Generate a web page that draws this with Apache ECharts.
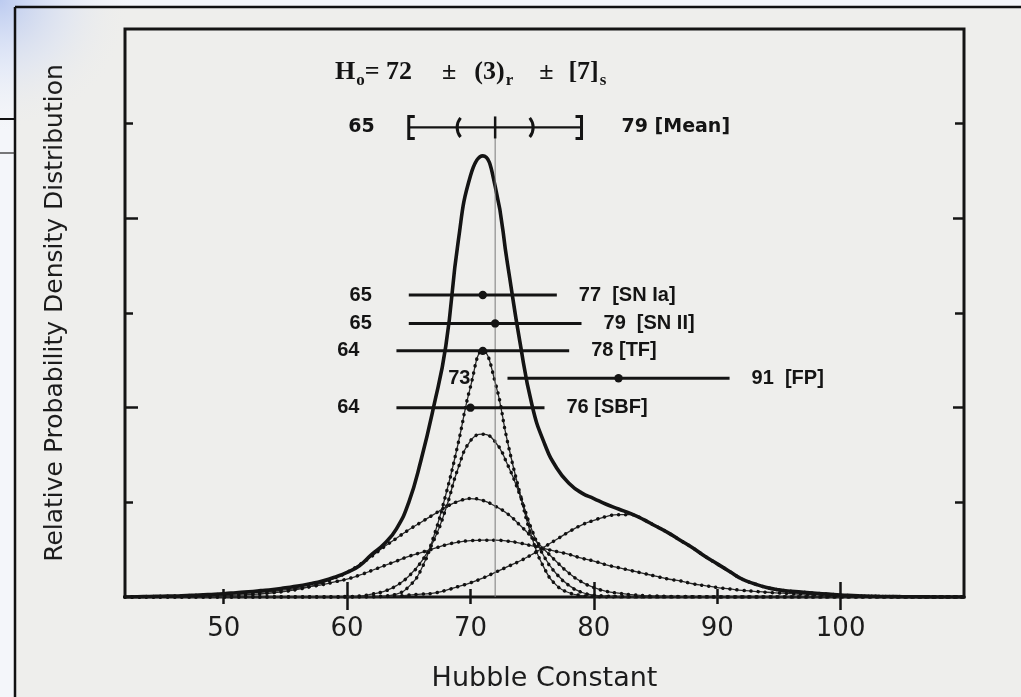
<!DOCTYPE html>
<html>
<head>
<meta charset="utf-8">
<title>Hubble Constant</title>
<script src="https://cdn.jsdelivr.net/npm/echarts@6/dist/echarts.min.js"></script>
<style>
  html, body { margin: 0; padding: 0; background: #eeeeec; }
  #chart { width: 1021px; height: 697px; }
</style>
</head>
<body>
<div id="chart"></div>
<script>
// ---- data ----------------------------------------------------------------
// Hubble constant values (km/s/Mpc) at which the densities are tabulated, 42..110
const hubbleGrid = [42,43,44,45,46,47,48,49,50,51,52,53,54,55,56,57,58,59,60,
  61,62,63,64,65,66,67,68,69,70,71,72,73,74,75,76,77,78,79,80,
  81,82,83,84,85,86,87,88,89,90,91,92,93,94,95,96,97,98,99,100,
  101,102,103,104,105,106,107,108,109,110];

// combined relative probability density
const combinedDensity = [0,0.003,0.005,0.008,0.01,0.015,0.02,0.027,0.035,0.045,0.055,0.067,0.08,0.097,0.115,0.14,0.17,0.21,0.26,
  0.33,0.45,0.56,0.72,1.00,1.45,2.00,2.65,3.75,4.45,4.66,4.34,3.52,2.70,2.02,1.62,1.36,1.20,1.10,1.04,
  0.98,0.93,0.88,0.82,0.75,0.68,0.60,0.52,0.43,0.35,0.27,0.19,0.14,0.10,0.075,0.06,0.05,0.04,0.03,0.02,
  0.015,0.01,0.007,0.005,0.003,0.002,0.001,0,0,0];

// individual method densities
const densityTF = [0,0,0,0,0,0,0,0,0,0,0,0,0,0,0,0,0,0,0,
  0.002,0.005,0.01,0.03,0.11,0.29,0.63,1.08,1.62,2.22,2.60,2.27,1.64,1.10,0.62,0.30,0.12,0.045,0.015,0.005,
  0,0,0,0,0,0,0,0,0,0,0,0,0,0,0,0,0,0,0,0,
  0,0,0,0,0,0,0,0,0,0];

const densitySNIa = [0,0,0,0,0,0,0,0,0,0,0,0,0,0,0,0,0,0,0.005,
  0.01,0.03,0.06,0.12,0.22,0.37,0.59,0.93,1.36,1.65,1.72,1.64,1.40,1.08,0.70,0.42,0.24,0.12,0.05,0.02,
  0.01,0.005,0,0,0,0,0,0,0,0,0,0,0,0,0,0,0,0,0,0,
  0,0,0,0,0,0,0,0,0,0];

const densitySBF = [0,0.002,0.003,0.004,0.006,0.008,0.01,0.012,0.015,0.02,0.025,0.034,0.045,0.06,0.08,0.11,0.15,0.20,0.26,
  0.34,0.43,0.53,0.62,0.71,0.79,0.87,0.95,1.01,1.04,1.02,0.96,0.88,0.76,0.63,0.50,0.37,0.25,0.16,0.10,
  0.06,0.04,0.025,0.015,0.01,0.007,0.005,0.003,0.002,0.001,0,0,0,0,0,0,0,0,0,0,
  0,0,0,0,0,0,0,0,0,0];

const densitySNII = [0,0.003,0.005,0.007,0.01,0.015,0.02,0.025,0.03,0.035,0.04,0.05,0.06,0.075,0.09,0.11,0.13,0.16,0.19,
  0.23,0.28,0.33,0.38,0.43,0.47,0.51,0.55,0.58,0.595,0.60,0.60,0.59,0.57,0.54,0.51,0.48,0.45,0.41,0.38,
  0.34,0.31,0.28,0.25,0.22,0.19,0.17,0.14,0.12,0.10,0.085,0.07,0.06,0.05,0.042,0.035,0.03,0.025,0.02,0.015,
  0.012,0.009,0.007,0.005,0.004,0.003,0.002,0.001,0,0];

const densityFP = [0,0,0,0,0,0,0,0,0,0,0,0,0,0,0,0,0,0,0,
  0,0,0.005,0.01,0.02,0.03,0.04,0.07,0.11,0.15,0.20,0.26,0.32,0.38,0.45,0.53,0.61,0.69,0.76,0.81,
  0.85,0.87,0.87,0.82,0.75,0.68,0.60,0.52,0.43,0.35,0.27,0.19,0.14,0.10,0.075,0.06,0.05,0.04,0.03,0.02,
  0.015,0.01,0.007,0.005,0.003,0.002,0.001,0,0,0];

// per-method ranges and central values
const methodNames   = ['SN Ia', 'SN II', 'TF', 'FP', 'SBF'];
const methodLow     = [65, 65, 64, 73, 64];
const methodHigh    = [77, 79, 78, 91, 76];
const methodCentral = [71, 72, 71, 82, 70];

// adopted value with random and systematic errors
const h0Value = 72;
const h0Random = 3;
const h0Systematic = 7;

// axis tick values
const xLabelValues = [50, 60, 70, 80, 90, 100];
const xMajorTicks = [60, 80, 100];
const xMinorTicks = [50, 70, 90];
const yMajorTicks = [2, 4];
const yMinorTicks = [1, 3, 5];

// ---- layout / style ------------------------------------------------------
const INK = '#141414';
const rowLevels = [3.19, 2.89, 2.6, 2.31, 2.0];   // heights of the method rows
const meanLevel = 4.96;                           // height of the mean bracket row
const tagGaps = ['  ', '  ', ' ', '  ', ' '];

const pairs = (ys) => hubbleGrid.map((x, i) => [x, ys[i]]);

function xAxisDef(position, ticks, len, withLabels) {
  return {
    type: 'value', min: 42, max: 110, position: position,
    axisLine: { show: false }, splitLine: { show: false },
    axisTick: { show: true, inside: true, length: len, customValues: ticks,
                lineStyle: { color: INK, width: 2.5 } },
    axisLabel: withLabels ? {
      show: true, customValues: xLabelValues, margin: 19,
      fontFamily: 'DejaVu Sans', fontSize: 26, color: '#1c1c1c'
    } : { show: false },
    name: withLabels ? 'Hubble Constant' : '',
    nameLocation: 'middle', nameGap: 68,
    nameTextStyle: { fontFamily: 'DejaVu Sans', fontSize: 27, color: '#1c1c1c' }
  };
}
function yAxisDef(position, ticks, len, withName) {
  return {
    type: 'value', min: 0, max: 6, position: position,
    axisLine: { show: false }, splitLine: { show: false },
    axisTick: { show: true, inside: true, length: len, customValues: ticks,
                lineStyle: { color: INK, width: 2.5 } },
    axisLabel: { show: false },
    name: withName ? 'Relative Probability Density Distribution' : '',
    nameLocation: 'middle', nameGap: 57,
    nameTextStyle: { fontFamily: 'DejaVu Sans', fontSize: 25, color: '#1c1c1c' }
  };
}

function componentSeries(ys) {
  return [
    { type: 'line', data: pairs(ys), showSymbol: false, smooth: 0.5,
      lineStyle: { color: '#2a2a2a', width: 1.3 }, z: 2, silent: true },
    { type: 'line', data: pairs(ys), showSymbol: false, smooth: 0.5,
      lineStyle: { color: '#111', width: 3.5, type: [0.1, 7], cap: 'round' }, z: 2, silent: true }
  ];
}

const methodSeries = {
  type: 'custom', z: 6, silent: true,
  data: methodNames.map((n, i) => [methodLow[i], methodHigh[i], methodCentral[i], rowLevels[i], i]),
  renderItem: function (params, api) {
    const i = api.value(4);
    const lo = api.coord([api.value(0), api.value(3)]);
    const hi = api.coord([api.value(1), api.value(3)]);
    const c = api.coord([api.value(2), api.value(3)]);
    const font = 'bold 20px "Liberation Sans"';
    return { type: 'group', children: [
      { type: 'line', shape: { x1: lo[0], y1: lo[1], x2: hi[0], y2: hi[1] },
        style: { stroke: INK, lineWidth: 3 } },
      { type: 'circle', shape: { cx: c[0], cy: c[1], r: 4.2 }, style: { fill: INK } },
      { type: 'text', x: lo[0] - 37, y: lo[1],
        style: { text: String(methodLow[i]), align: 'right', verticalAlign: 'middle', font: font, fill: INK } },
      { type: 'text', x: hi[0] + 22, y: hi[1],
        style: { text: methodHigh[i] + tagGaps[i] + '[' + methodNames[i] + ']',
                 align: 'left', verticalAlign: 'middle', font: font, fill: INK } }
    ] };
  }
};

const meanSeries = {
  type: 'custom', z: 6, silent: true,
  data: [[h0Value - h0Systematic, h0Value + h0Systematic, h0Value, h0Value - h0Random, h0Value + h0Random]],
  renderItem: function (params, api) {
    const lo = api.coord([api.value(0), meanLevel]);
    const hi = api.coord([api.value(1), meanLevel]);
    const mid = api.coord([api.value(2), meanLevel]);
    const base = api.coord([api.value(2), 0]);
    const pl = api.coord([api.value(3), meanLevel]);
    const pr = api.coord([api.value(4), meanLevel]);
    const y = lo[1], h = 11;
    const font = 'bold 19px "DejaVu Sans"';
    return { type: 'group', children: [
      { type: 'line', shape: { x1: base[0], y1: base[1], x2: mid[0], y2: y },
        style: { stroke: '#7a7a7a', lineWidth: 1 } },
      { type: 'line', shape: { x1: lo[0], y1: y, x2: hi[0], y2: y }, style: { stroke: INK, lineWidth: 2.2 } },
      { type: 'polyline', shape: { points: [[lo[0] + 6, y - h], [lo[0], y - h], [lo[0], y + h], [lo[0] + 6, y + h]] },
        style: { stroke: INK, lineWidth: 3, fill: null } },
      { type: 'polyline', shape: { points: [[hi[0] - 6, y - h], [hi[0], y - h], [hi[0], y + h], [hi[0] - 6, y + h]] },
        style: { stroke: INK, lineWidth: 3, fill: null } },
      { type: 'arc', shape: { cx: pl[0] + 14, cy: y, r: 15, startAngle: Math.PI * 0.78, endAngle: Math.PI * 1.22, clockwise: true },
        style: { stroke: INK, lineWidth: 3, fill: null } },
      { type: 'arc', shape: { cx: pr[0] - 14, cy: y, r: 15, startAngle: -Math.PI * 0.22, endAngle: Math.PI * 0.22, clockwise: true },
        style: { stroke: INK, lineWidth: 3, fill: null } },
      { type: 'line', shape: { x1: mid[0], y1: y - h, x2: mid[0], y2: y + h }, style: { stroke: INK, lineWidth: 2.5 } },
      { type: 'text', x: lo[0] - 34, y: y,
        style: { text: String(api.value(0)), align: 'right', verticalAlign: 'middle', font: font, fill: INK } },
      { type: 'text', x: hi[0] + 40, y: y,
        style: { text: api.value(1) + ' [Mean]', align: 'left', verticalAlign: 'middle', font: font, fill: INK } }
    ] };
  }
};

const chart = echarts.init(document.getElementById('chart'), null, { renderer: 'canvas' });
chart.setOption({
  animation: false,
  backgroundColor: '#eeeeec',
  grid: { left: 125, right: 57, top: 29, bottom: 95, show: true,
          borderColor: INK, borderWidth: 3, backgroundColor: 'transparent' },
  xAxis: [
    xAxisDef('bottom', xMajorTicks, 15, true),
    xAxisDef('bottom', xMinorTicks, 8, false),
    xAxisDef('top', xMajorTicks, 13, false),
    xAxisDef('top', xMinorTicks, 7, false)
  ],
  yAxis: [
    yAxisDef('left', yMajorTicks, 13, true),
    yAxisDef('left', yMinorTicks, 8, false),
    yAxisDef('right', yMajorTicks, 11, false),
    yAxisDef('right', yMinorTicks, 9, false)
  ],
  graphic: [
    // page edge and header shading around the figure
    { type: 'rect', z: -10, shape: { x: 0, y: 0, width: 15, height: 697 }, style: { fill: '#f4f6fa' } },
    { type: 'rect', z: -10, shape: { x: 0, y: 0, width: 1021, height: 7 }, style: { fill: '#f4f6fa' } },
    { type: 'rect', z: -9, shape: { x: 0, y: 0, width: 190, height: 130 },
      style: { fill: new echarts.graphic.RadialGradient(0, 0, 1, [
        { offset: 0, color: 'rgba(178,195,238,0.85)' },
        { offset: 0.55, color: 'rgba(214,223,245,0.45)' },
        { offset: 1, color: 'rgba(238,238,236,0)' }]) } },
    { type: 'line', z: 10, shape: { x1: 15, y1: 7, x2: 1021, y2: 7 }, style: { stroke: '#111', lineWidth: 2.5 } },
    { type: 'line', z: 10, shape: { x1: 15, y1: 7, x2: 15, y2: 697 }, style: { stroke: '#111', lineWidth: 2.5 } },
    { type: 'line', z: 10, shape: { x1: 0, y1: 119, x2: 15, y2: 119 }, style: { stroke: '#111', lineWidth: 2 } },
    { type: 'line', z: 10, shape: { x1: 0, y1: 153, x2: 15, y2: 153 }, style: { stroke: '#222', lineWidth: 1.2 } },
    // adopted value
    { type: 'text', z: 10, left: 335, top: 59,
      style: {
        text: '{m|H}{s|o}{m|= ' + h0Value + '}{pa|±}{m|(' + h0Random + ')}{s|r}{pb|±}{m|[' + h0Systematic + ']}{s|s}',
        rich: {
          m:  { fontFamily: 'Liberation Serif', fontWeight: 'bold', fontSize: 26, fill: INK, color: INK },
          pa: { fontFamily: 'Liberation Serif', fontWeight: 'bold', fontSize: 26, fill: INK, color: INK, padding: [0, 18, 0, 30] },
          pb: { fontFamily: 'Liberation Serif', fontWeight: 'bold', fontSize: 26, fill: INK, color: INK, padding: [0, 15, 0, 26] },
          s:  { fontFamily: 'Liberation Serif', fontWeight: 'bold', fontSize: 17, fill: INK, color: INK, padding: [18, 0, 0, 1] }
        }
      } }
  ],
  series: [
    ...componentSeries(densityTF),
    ...componentSeries(densitySNIa),
    ...componentSeries(densitySBF),
    ...componentSeries(densitySNII),
    ...componentSeries(densityFP),
    { type: 'line', data: pairs(combinedDensity), showSymbol: false, smooth: 0.5,
      lineStyle: { color: INK, width: 3.6 }, z: 4, silent: true },
    meanSeries,
    methodSeries
  ]
});
</script>
</body>
</html>
